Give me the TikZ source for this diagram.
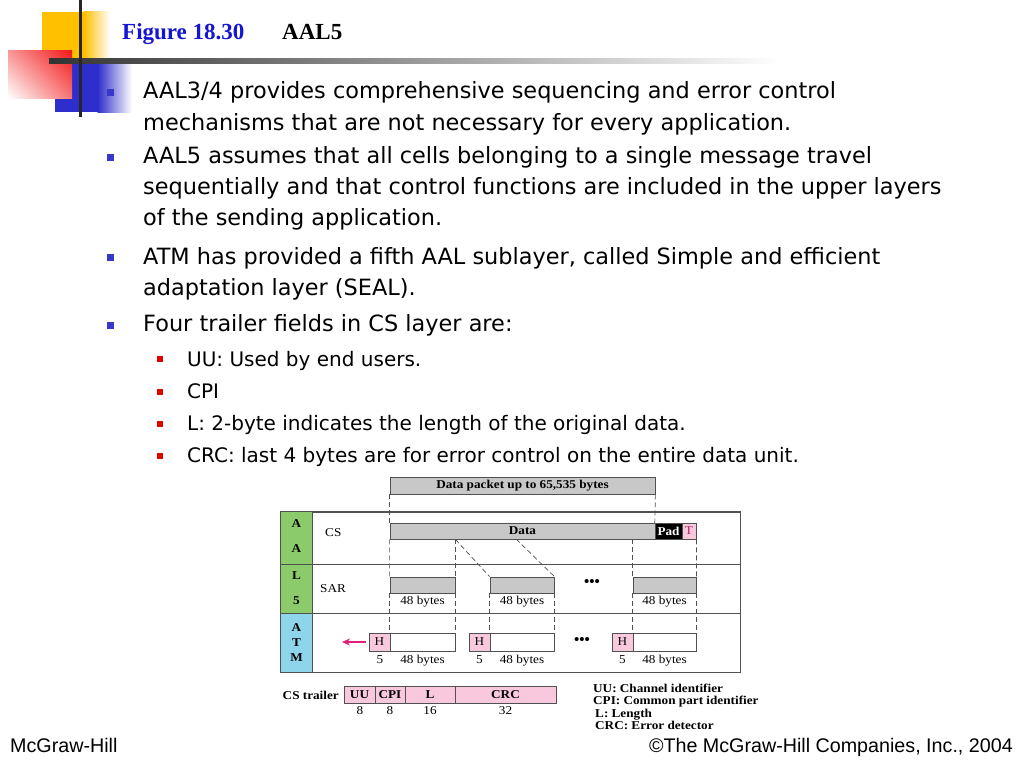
\documentclass[tikz,border=0pt]{standalone}
\usepackage{fontspec}
\setmainfont{Liberation Serif}
\newfontfamily\tah{DejaVu Sans}
\newfontfamily\diag[FakeStretch=1.1]{Liberation Serif}
\newfontfamily\arialf{Liberation Sans}
\usetikzlibrary{arrows.meta,shadings}
\definecolor{titleblue}{HTML}{1414D2}
\definecolor{bulblue}{HTML}{3838C8}
\definecolor{bulred}{HTML}{E00000}
\definecolor{logoyellow}{HTML}{FFC000}
\definecolor{logored}{HTML}{F21818}
\definecolor{logoblue}{HTML}{2E2ECC}
\definecolor{boxgray}{HTML}{C8C8C8}
\definecolor{edgegray}{HTML}{505050}
\definecolor{pinkfill}{HTML}{F8C8DC}
\definecolor{aalgreen}{HTML}{8CCB6C}
\definecolor{atmblue}{HTML}{8ED4EA}
\definecolor{arrowpink}{HTML}{E0207A}
\definecolor{tred}{HTML}{B02060}
\tikzset{
  mainline/.style={anchor=base west, inner sep=0pt, font=\tah\fontsize{22.4bp}{26bp}\selectfont},
  subline/.style={anchor=base west, inner sep=0pt, font=\tah\fontsize{20bp}{22bp}\selectfont},
  mbul/.style={fill=bulblue, minimum size=7bp, inner sep=0pt},
  sbul/.style={fill=bulred, minimum size=6bp, inner sep=0pt},
  graybox/.style={draw=edgegray, fill=boxgray, line width=0.8bp, inner sep=0pt, font=\diag\bfseries\fontsize{12bp}{14bp}\selectfont},
  whitebox/.style={draw=edgegray, fill=white, line width=0.8bp, inner sep=0pt},
  pinkbox/.style={draw=edgegray, fill=pinkfill, line width=0.8bp, inner sep=0pt, font=\diag\fontsize{12bp}{14bp}\selectfont},
  trbox/.style={draw=edgegray, fill=pinkfill, line width=0.8bp, inner sep=0pt, minimum height=17bp, font=\diag\bfseries\fontsize{12bp}{14bp}\selectfont},
  dsh/.style={dashed, dash pattern=on 5bp off 3bp, edgegray, line width=0.7bp},
  small/.style={inner sep=0pt, font=\diag\fontsize{12bp}{14bp}\selectfont},
  smallb/.style={inner sep=0pt, font=\diag\bfseries\fontsize{12bp}{14bp}\selectfont},
  legend/.style={anchor=base west, inner sep=0pt, font=\diag\bfseries\fontsize{12bp}{14bp}\selectfont},
  frameline/.style={draw=edgegray, line width=0.9bp},
}
\begin{document}
\begin{tikzpicture}[x=1bp,y=-1bp]
\useasboundingbox[fill=white] (0,0) rectangle (1024,768);

% ---- logo ----
\fill[logoyellow] (42,12) rectangle (84,62);
\shade[left color=logoyellow, right color=white] (83.5,12) rectangle (110,62);
\fill[logoblue] (55,62) rectangle (98,112);
\shade[left color=logoblue, right color=white] (97.5,62) rectangle (132,112);
\shade[upper right=logored, lower left=white, upper left=logored!45!white, lower right=logored!60!white] (8,51) rectangle (72,98);
\shade[left color=black!80, right color=white] (49,59) rectangle (780,63.5);
\fill[black!85] (78.5,0) rectangle (81.5,117);

% ---- title ----
\node[anchor=base west, inner sep=0pt, font=\bfseries\fontsize{23bp}{26bp}\selectfont, text=titleblue] (ttl) at (122,40) {Figure 18.30};
\node[anchor=base west, inner sep=0pt, font=\bfseries\fontsize{23bp}{26bp}\selectfont] (ttl2) at (282,40) {AAL5};

% ---- bullets ----
\node[mbul] (mb1) at (110.5,92.5) {};
\node[mainline] (l1) at (143,99) {AAL3/4 provides comprehensive sequencing and error control};
\node[mainline] (l2) at (143,130) {mechanisms that are not necessary for every application.};
\node[mbul] (mb2) at (110.5,157) {};
\node[mainline] (l3) at (143,163) {AAL5 assumes that all cells belonging to a single message travel};
\node[mainline] (l4) at (143,194) {sequentially and that control functions are included in the upper layers};
\node[mainline] (l5) at (143,225) {of the sending application.};
\node[mbul] (mb3) at (110.5,257) {};
\node[mainline] (l6) at (143,264) {ATM has provided a fifth AAL sublayer, called Simple and efficient};
\node[mainline] (l7) at (143,295) {adaptation layer (SEAL).};
\node[mbul] (mb4) at (110.5,325) {};
\node[mainline] (l8) at (143,331) {Four trailer fields in CS layer are:};
\node[sbul] (sb1) at (160,359) {};
\node[subline] (s1) at (187,366) {UU: Used by end users.};
\node[sbul] (sb2) at (160,392) {};
\node[subline] (s2) at (187,398) {CPI};
\node[sbul] (sb3) at (160,424) {};
\node[subline] (s3) at (187,430) {L: 2-byte indicates the length of the original data.};
\node[sbul] (sb4) at (160,456) {};
\node[subline] (s4) at (187,462) {CRC: last 4 bytes are for error control on the entire data unit.};

% ---- diagram frame ----
\node[draw=edgegray, line width=0.9bp, minimum width=459bp, minimum height=160bp, inner sep=0pt] (fr) at (510.5,592) {};
\node[fill=aalgreen, minimum width=31bp, minimum height=101bp, inner sep=0pt] (aal) at (296.5,562.5) {};
\node[fill=atmblue, minimum width=31bp, minimum height=59bp, inner sep=0pt] (atm) at (296.5,642.5) {};
\coordinate (csy) at (281,564);
\draw[frameline] (csy) -- (csy -| fr.east);
\draw[frameline] (aal.south west) -- (aal.south west -| fr.east);
\draw[frameline] (aal.north east) -- (atm.south east);
\draw[frameline] (fr.north west) rectangle (fr.south east);
\node[smallb] (la1) at (296.5,524) {A};
\node[smallb] (la2) at (296.5,549) {A};
\node[smallb] (la3) at (296.5,576) {L};
\node[smallb] (la4) at (296.5,601) {5};
\node[smallb] (lt1) at (296.5,628) {A};
\node[smallb] (lt2) at (296.5,643) {T};
\node[smallb] (lt3) at (296.5,658) {M};
\node[small, anchor=west] (cs) at (325,533) {CS};
\node[small, anchor=west] (sar) at (320,589) {SAR};

% ---- boxes ----
\node[graybox, minimum width=265bp, minimum height=17bp] (pkt) at (522.5,485.5) {Data packet up to 65,535 bytes};
\node[graybox, minimum width=265bp, minimum height=16bp] (data) at (522.5,531) {Data};
\node[draw=edgegray, fill=black, text=white, inner sep=0pt, minimum width=27bp, minimum height=16bp, font=\diag\bfseries\fontsize{12bp}{14bp}\selectfont] (pad) at (668.5,531) {Pad};
\node[pinkbox, text=tred, minimum width=14bp, minimum height=16bp] (tr) at (689,531) {T};
\node[graybox, minimum width=65bp, minimum height=16bp] (sar1) at (422.5,585) {};
\node[graybox, minimum width=64bp, minimum height=16bp] (sar2) at (522,585) {};
\node[graybox, minimum width=63bp, minimum height=16bp] (sar3) at (664.5,585) {};
\node[small] (sb1t) at (422.5,602) {48 bytes};
\node[small] (sb2t) at (522,602) {48 bytes};
\node[small] (sb3t) at (664.5,602) {48 bytes};
\node[smallb, font=\bfseries\fontsize{15bp}{15bp}\selectfont] (dots1) at (592,583) {•••};

\node[pinkbox, minimum width=21bp, minimum height=18bp] (h1) at (379.5,642) {H};
\node[whitebox, minimum width=65bp, minimum height=18bp] (c1) at (422.5,642) {};
\node[pinkbox, minimum width=21bp, minimum height=18bp] (h2) at (479.5,642) {H};
\node[whitebox, minimum width=64bp, minimum height=18bp] (c2) at (522,642) {};
\node[pinkbox, minimum width=21bp, minimum height=18bp] (h3) at (622.5,642) {H};
\node[whitebox, minimum width=63bp, minimum height=18bp] (c3) at (664.5,642) {};
\node[small, anchor=base] (n1) at (380,663) {5};
\node[small, anchor=base] (n2) at (422.5,663) {48 bytes};
\node[small, anchor=base] (n3) at (479.5,663) {5};
\node[small, anchor=base] (n4) at (522,663) {48 bytes};
\node[small, anchor=base] (n5) at (622.5,663) {5};
\node[small, anchor=base] (n6) at (664.5,663) {48 bytes};
\node[smallb, font=\bfseries\fontsize{15bp}{15bp}\selectfont] (dots2) at (582,641) {•••};
\coordinate (arrE) at (366,642);
\coordinate (arrS) at (342,642);
\draw[arrowpink, line width=1.6bp, -{Stealth[length=8bp,width=7bp]}] (arrE) -- (arrS);

% ---- dashed guides ----
\coordinate (d2) at (516,539);
\draw[dsh] (pkt.south west) -- (data.north west);
\draw[dsh] (data.south west) -- (sar1.north west);
\draw[dsh] (sar1.south west) -- (c1.north west);
\draw[dsh] (pkt.south east) -- (pad.north west);
\draw[dsh] (sar1.north east |- data.south) -- (sar1.north east);
\draw[dsh] (sar1.south east) -- (c1.north east);
\draw[dsh] (sar1.north east |- data.south) -- (sar2.north west);
\draw[dsh] (d2) -- (sar2.north east);
\draw[dsh] (sar2.south west) -- (c2.north west);
\draw[dsh] (sar2.south east) -- (c2.north east);
\draw[dsh] (sar3.north west |- data.south) -- (sar3.north west);
\draw[dsh] (sar3.south west) -- (c3.north west);
\draw[dsh] (tr.south east) -- (sar3.north east);
\draw[dsh] (sar3.south east) -- (c3.north east);

% ---- CS trailer ----
\node[inner sep=0pt, anchor=base east, font=\diag\bfseries\fontsize{12bp}{14bp}\selectfont] (cst) at (339,699) {CS trailer};
\node[trbox, minimum width=31bp] (uu) at (359.5,694.5) {UU};
\node[trbox, minimum width=30bp] (cpi) at (390,694.5) {CPI};
\node[trbox, minimum width=50bp] (lf) at (430,694.5) {L};
\node[trbox, minimum width=101bp] (crc) at (505.5,694.5) {CRC};
\node[small, anchor=base] (w1) at (360,714) {8};
\node[small, anchor=base] (w2) at (390,714) {8};
\node[small, anchor=base] (w3) at (430,714) {16};
\node[small, anchor=base] (w4) at (505.5,714) {32};
\node[legend] (lg1) at (593,692) {UU: Channel identifier};
\node[legend] (lg2) at (593,704.5) {CPI: Common part identifier};
\node[legend] (lg3) at (595,717) {L: Length};
\node[legend] (lg4) at (595,729.5) {CRC: Error detector};

% ---- footer ----
\node[anchor=base west, inner sep=0pt, font=\arialf\fontsize{19.7bp}{20bp}\selectfont] (f1) at (10,752) {McGraw-Hill};
\node[anchor=base east, inner sep=0pt, font=\arialf\fontsize{19.7bp}{20bp}\selectfont] (f2) at (1013,752) {©The McGraw-Hill Companies, Inc., 2004};
\end{tikzpicture}
\end{document}
